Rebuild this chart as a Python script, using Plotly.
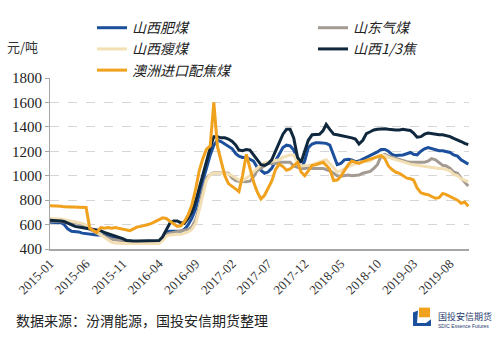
import plotly.graph_objects as go

# ---------------- data ----------------
# semi-monthly observation dates (1st and 16th), 2015-01-01 .. 2019-10-16
dates = []
for i in range(116):
    m = i // 2
    dates.append(f"{2015 + m // 12}-{m % 12 + 1:02d}-{'01' if i % 2 == 0 else '16'}")

tick_labels = ["2015-01", "2015-06", "2015-11", "2016-04", "2016-09", "2017-02",
               "2017-07", "2017-12", "2018-05", "2018-10", "2019-03", "2019-08"]

shanxi_fei = [620,620,620,615,600,565,545,545,540,530,
              525,520,520,515,515,510,500,490,485,480,
              475,465,460,460,460,460,460,460,460,460,
              460,480,540,545,545,545,545,560,600,650,
              730,850,960,1060,1170,1250,1290,1280,1260,1240,
              1220,1180,1160,1150,1150,1135,1120,1070,1040,1020,
              1030,1060,1120,1170,1230,1250,1245,1210,1140,1060,
              1120,1230,1260,1270,1270,1270,1265,1250,1160,1090,
              1100,1130,1135,1130,1115,1120,1135,1150,1160,1180,
              1195,1215,1215,1200,1175,1165,1165,1170,1180,1190,
              1175,1170,1200,1220,1230,1220,1210,1205,1205,1195,
              1190,1170,1160,1130,1110,1095]

shandong_qi = [630,630,625,625,620,620,620,615,610,600,
               580,560,545,530,515,500,490,480,475,470,
               465,460,460,460,460,460,460,460,460,460,
               460,490,520,530,535,540,545,550,560,580,
               640,740,880,980,1010,1025,1025,1025,1025,1020,
               980,960,955,950,950,955,990,1040,1060,1080,
               1100,1100,1100,1110,1110,1110,1110,1080,1070,1060,
               1060,1065,1060,1060,1060,1060,1050,1040,1020,1000,
               995,1000,1005,1000,1005,1005,1020,1030,1035,1060,
               1090,1160,1175,1160,1150,1140,1135,1125,1115,1110,
               1110,1110,1110,1110,1120,1140,1130,1110,1085,1080,
               1060,1030,1020,980,950,915]

shanxi_shou = [650,650,650,645,640,635,630,625,620,610,
               595,570,555,535,510,490,470,455,450,445,
               445,445,445,445,445,445,445,445,445,445,
               445,470,505,515,520,520,520,530,540,560,
               610,720,830,960,1010,1020,1020,1020,1020,1015,
               1000,980,965,960,980,1000,1030,1060,1090,1105,
               1110,1115,1120,1130,1150,1160,1170,1170,1110,1080,
               1080,1085,1090,1100,1110,1120,1130,1100,1060,1030,
               1040,1060,1075,1085,1100,1110,1115,1115,1120,1140,
               1160,1165,1165,1150,1140,1130,1120,1110,1100,1095,
               1090,1085,1085,1080,1075,1070,1065,1060,1060,1050,
               1040,1010,1000,975,960,950]

shanxi_13jiao = [635,635,635,630,625,610,595,585,580,575,
                 575,570,565,560,550,535,525,515,505,495,
                 485,470,465,465,465,465,465,465,465,465,
                 470,500,560,610,630,630,615,610,650,700,
                 790,900,1010,1120,1230,1320,1320,1310,1310,1300,
                 1280,1250,1210,1205,1215,1210,1170,1130,1090,1085,
                 1100,1130,1200,1270,1340,1380,1380,1310,1150,1110,
                 1200,1290,1335,1340,1340,1370,1420,1380,1340,1335,
                 1330,1325,1320,1310,1300,1260,1290,1345,1360,1375,
                 1380,1385,1385,1380,1375,1375,1375,1380,1375,1370,
                 1350,1315,1320,1340,1350,1345,1335,1335,1335,1330,
                 1320,1305,1295,1280,1265,1255]

aus_import = [755,755,750,750,745,745,742,742,740,740,
              740,570,550,535,575,570,575,570,575,570,
              565,560,550,565,580,585,590,600,610,625,
              640,655,650,630,605,585,590,625,680,760,
              890,1040,1140,1215,1245,1600,1240,1130,1000,935,
              915,890,870,1000,1175,1050,950,870,810,840,
              900,955,1050,1095,1075,1045,1055,1080,1110,1030,
              1000,1040,1085,1090,1100,1110,1085,1050,960,965,
              995,1040,1090,1120,1110,1100,1115,1125,1135,1145,
              1155,1165,1140,1080,1050,1030,1020,1000,980,975,
              965,900,860,850,845,830,815,820,855,845,
              830,815,800,775,785,750]

series_names = ["山西肥煤", "山东气煤", "山西瘦煤", "山西1/3焦", "澳洲进口配焦煤"]
series_values = [shanxi_fei, shandong_qi, shanxi_shou, shanxi_13jiao, aus_import]
series_colors = ["#1c4f9c", "#a39a92", "#f3dfb4", "#10283d", "#f0a11e"]
series_legend = ["legend", "legend2", "legend", "legend2", "legend"]

# ---------------- geometry helpers (layout only) ----------------
W, H = 500, 337
L, R, T, B = 50, 31, 73, 87.5
PW, PH = W - L - R, H - T - B


def px(x):
    return (x - L) / PW


def py(y):
    return (H - B - y) / PH


fig = go.Figure()
for name, vals, col, lg in zip(series_names, series_values, series_colors, series_legend):
    fig.add_trace(go.Scatter(x=dates, y=vals, mode="lines", name=name,
                             line=dict(color=col, width=3), legend=lg,
                             hoverinfo="skip"))

legend_font = dict(family="Noto Sans CJK SC", size=14, color="#222222", style="italic")

fig.update_layout(
    width=W, height=H, autosize=False,
    margin=dict(l=L, r=R, t=T, b=B, pad=0),
    paper_bgcolor="white", plot_bgcolor="white",
    showlegend=True,
    legend=dict(x=px(92), y=py(5), xanchor="left", yanchor="top",
                orientation="v", font=legend_font, bgcolor="rgba(0,0,0,0)",
                itemwidth=30, tracegroupgap=0),
    legend2=dict(x=px(313), y=py(5), xanchor="left", yanchor="top",
                 orientation="v", font=legend_font, bgcolor="rgba(0,0,0,0)",
                 itemwidth=30, tracegroupgap=0),
    xaxis=dict(type="date", range=["2015-01-01", "2019-10-19"],
               tickvals=[t + "-01" for t in tick_labels], ticktext=tick_labels,
               tickangle=-45, showgrid=False, zeroline=False,
               showline=True, linecolor="#a6a6a6", linewidth=2, ticks="",
               tickfont=dict(family="Liberation Serif", size=13, color="#333333")),
    yaxis=dict(range=[400, 1800], dtick=200, tick0=400, showgrid=True,
               gridcolor="#d6d6d6", griddash="dash", gridwidth=1, zeroline=False,
               showline=True, linecolor="#a6a6a6", linewidth=1,
               ticks="outside", ticklen=4, tickcolor="#a6a6a6",
               tickfont=dict(family="Liberation Serif", size=15, color="#222222")),
)

annotations = [
    dict(text="元/吨", x=px(5), y=py(40), xref="paper", yref="paper",
         xanchor="left", yanchor="middle", showarrow=False,
         font=dict(family="Noto Sans CJK SC", size=13, color="#333333")),
    dict(text="数据来源：汾渭能源，国投安信期货整理", x=px(14), y=py(323),
         xref="paper", yref="paper", xanchor="left", yanchor="middle",
         showarrow=False, font=dict(family="Noto Sans CJK SC", size=14, color="#222222")),
    dict(text="国投安信期货", x=px(436), y=py(319), xref="paper", yref="paper",
         xanchor="left", yanchor="middle", showarrow=False,
         font=dict(family="Noto Sans CJK SC", size=9, color="#1f3b6e")),
    dict(text="SDIC Essence Futures", x=px(436), y=py(329), xref="paper", yref="paper",
         xanchor="left", yanchor="middle", showarrow=False,
         font=dict(family="Liberation Sans", size=5, color="#1f3b6e")),
]
fig.update_layout(annotations=annotations)

shapes = [
    dict(type="rect", xref="paper", yref="paper", x0=px(419), x1=px(430),
         y0=py(320), y1=py(310), fillcolor="#f0a11e", line=dict(width=0)),
    dict(type="path", xref="paper", yref="paper",
         path=(f"M {px(418)} {py(313)} L {px(413)} {py(315)} L {px(413)} {py(329)} "
               f"L {px(431)} {py(329)} L {px(431)} {py(322)} L {px(426)} {py(326)} "
               f"L {px(417)} {py(326)} Z"),
         fillcolor="#1c4f9c", line=dict(width=0)),
]
fig.update_layout(shapes=shapes)

fig.write_html("out.html")
